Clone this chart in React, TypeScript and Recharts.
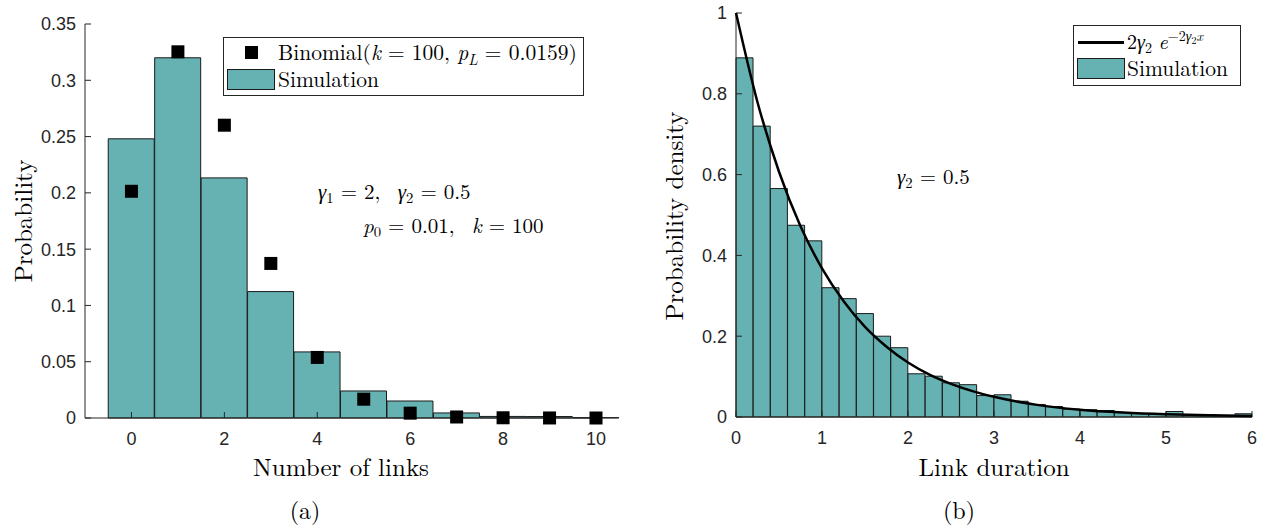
import React from "react"
import { ComposedChart, Bar, Scatter, Line, XAxis, YAxis } from "recharts"

// (a) number of links
const linkCounts = [0, 1, 2, 3, 4, 5, 6, 7, 8, 9, 10]
const simProb = [0.248, 0.32, 0.2133, 0.1123, 0.0587, 0.024, 0.0151, 0.0045, 0.0014, 0.0013, 0.0003]
const binomProb = [0.2014, 0.3253, 0.2601, 0.1373, 0.0538, 0.0167, 0.0043, 0.0009, 0.0002, 0.00003, 0]
const linkTicks = [0, 2, 4, 6, 8, 10]
const probTicks = [0, 0.05, 0.1, 0.15, 0.2, 0.25, 0.3, 0.35]

// (b) link duration
const binCenters = [
  0.1, 0.3, 0.5, 0.7, 0.9, 1.1, 1.3, 1.5, 1.7, 1.9, 2.1, 2.3, 2.5, 2.7, 2.9,
  3.1, 3.3, 3.5, 3.7, 3.9, 4.1, 4.3, 4.5, 4.7, 4.9, 5.1, 5.3, 5.5, 5.7, 5.9,
]
const density = [
  0.889, 0.72, 0.5655, 0.4746, 0.436, 0.32, 0.293, 0.256, 0.2, 0.1715, 0.107, 0.101, 0.0847, 0.08, 0.053,
  0.055, 0.039, 0.031, 0.026, 0.0194, 0.018, 0.016, 0.011, 0.0087, 0.007, 0.0136, 0.006, 0.005, 0.004, 0.008,
]
const curveX = [0, 0.25, 0.5, 0.75, 1, 1.25, 1.5, 1.75, 2, 2.25, 2.5, 2.75, 3, 3.5, 4, 4.5, 5, 5.5, 6]
const curveY = [1, 0.779, 0.607, 0.472, 0.368, 0.287, 0.223, 0.174, 0.135, 0.105, 0.082, 0.064, 0.05, 0.03, 0.018, 0.011, 0.0067, 0.0041, 0.0025]
const durationTicks = [0, 1, 2, 3, 4, 5, 6]
const densityTicks = [0, 0.2, 0.4, 0.6, 0.8, 1]

const TEAL = "#66b2b2"
const AXIS = "#262626"
const SERIF = "'Latin Modern Roman', 'CMU Serif', 'Liberation Serif', serif"
const SANS = "'Liberation Sans', Arial, sans-serif"

const tickStyle = { fill: AXIS, fontSize: 18, fontFamily: SANS }
const noLabel = () => ""

const linkData = linkCounts.map((x, i) => ({ x, sim: simProb[i], binom: binomProb[i] }))
const durData = binCenters.map((x, i) => ({ x, d: density[i] }))
const curveData = curveX.map((x, i) => ({ x, y: curveY[i] }))

const rightMargin = { top: 13, right: 15, bottom: 80, left: 36 }

const SquareMarker = (props: any) => {
  const { cx, cy } = props
  if (cx == null || cy == null) return null
  return <rect x={cx - 6.5} y={cy - 6.5} width={13} height={13} fill="#000" />
}

const subStyle: React.CSSProperties = { fontSize: "0.7em", fontStyle: "normal", verticalAlign: "-0.3em", lineHeight: 0 }

const g = (sub: string) => (
  <span>
    <i>γ</i>
    <span style={subStyle}>{sub}</span>
  </span>
)

const abs = (left: number, top: number, extra: React.CSSProperties = {}): React.CSSProperties => ({
  position: "absolute",
  left,
  top,
  fontFamily: SERIF,
  color: "#000",
  whiteSpace: "nowrap",
  lineHeight: 1,
  ...extra,
})

export default function App() {
  return (
    <div style={{ position: "absolute", left: 0, top: 0, width: 1267, height: 527, background: "#fff" }}>
      {/* left panel */}
      <div style={{ position: "absolute", left: 0, top: 0 }}>
        <ComposedChart
          width={620}
          height={527}
          data={linkData}
          margin={{ top: 24, right: 24, bottom: 79, left: 25 }}
          barCategoryGap={0}
          barGap={0}
        >
          <XAxis
            dataKey="x"
            type="number"
            domain={[-1, 10]}
            ticks={linkTicks}
            height={30}
            tickSize={-6}
            tickMargin={20}
            stroke={AXIS}
            tick={tickStyle}
          />
          <XAxis xAxisId="top" orientation="top" type="number" domain={[-1, 10]} ticks={linkTicks} height={0}
            tickSize={-6} stroke={AXIS} tickFormatter={noLabel} />
          <YAxis
            type="number"
            domain={[0, 0.35]}
            ticks={probTicks}
            width={60}
            tickSize={-6}
            tickMargin={15}
            stroke={AXIS}
            tick={tickStyle}
          />
          <YAxis yAxisId="right" orientation="right" type="number" domain={[0, 0.35]} ticks={probTicks} width={0}
            tickSize={-6} stroke={AXIS} tickFormatter={noLabel} />
          <Bar dataKey="sim" fill={TEAL} stroke="#1a1a1a" strokeWidth={1} isAnimationActive={false} />
          <Scatter dataKey="binom" shape={SquareMarker} isAnimationActive={false} />
        </ComposedChart>
      </div>

      {/* left legend */}
      <div style={{ position: "absolute", left: 223, top: 37, width: 359, height: 57, border: "1px solid #262626", background: "#fff" }} />
      <div style={{ position: "absolute", left: 245, top: 46, width: 13, height: 13, background: "#000" }} />
      <div style={{ position: "absolute", left: 227, top: 69, width: 46, height: 19, background: TEAL, border: "1px solid #1a1a1a" }} />
      <div style={abs(278, 41, { fontSize: 21.5 })}>
        Binomial(<i>k</i> = 100, <i>p</i><span style={subStyle}><i>L</i></span> = 0.0159)
      </div>
      <div style={abs(278, 68, { fontSize: 21.5 })}>Simulation</div>

      {/* left annotations */}
      <div style={abs(318, 180, { fontSize: 21 })}>
        {g("1")} = 2,&nbsp; {g("2")} = 0.5
      </div>
      <div style={abs(363, 214, { fontSize: 21 })}>
        <i>p</i><span style={subStyle}>0</span> = 0.01,&nbsp; <i>k</i> = 100
      </div>

      {/* left axis titles */}
      <div style={abs(341, 453, { fontSize: 25, transform: "translateX(-50%)" })}>Number of links</div>
      <div style={abs(21, 221, { fontSize: 25, transform: "translate(-50%, -50%) rotate(-90deg)" })}>Probability</div>
      <div style={abs(305, 497, { fontSize: 24, transform: "translateX(-50%)" })}>(a)</div>

      {/* right panel: histogram */}
      <div style={{ position: "absolute", left: 640, top: 0 }}>
        <ComposedChart width={627} height={527} data={durData} margin={rightMargin} barCategoryGap={0} barGap={0}>
          <XAxis
            dataKey="x"
            type="number"
            domain={[0, 6]}
            ticks={durationTicks}
            height={30}
            tickSize={-6}
            tickMargin={20}
            stroke={AXIS}
            tick={tickStyle}
          />
          <XAxis xAxisId="top" orientation="top" type="number" domain={[0, 6]} ticks={durationTicks} height={0}
            tickSize={-6} stroke={AXIS} tickFormatter={noLabel} />
          <YAxis
            type="number"
            domain={[0, 1]}
            ticks={densityTicks}
            width={60}
            tickSize={-6}
            tickMargin={15}
            stroke={AXIS}
            tick={tickStyle}
          />
          <YAxis yAxisId="right" orientation="right" type="number" domain={[0, 1]} ticks={densityTicks} width={0}
            tickSize={-6} stroke={AXIS} tickFormatter={noLabel} />
          <Bar dataKey="d" fill={TEAL} stroke="#1a1a1a" strokeWidth={1} isAnimationActive={false} />
        </ComposedChart>
      </div>

      {/* right panel: fitted curve overlay */}
      <div style={{ position: "absolute", left: 640, top: 0 }}>
        <ComposedChart width={627} height={527} data={curveData} margin={rightMargin}>
          <XAxis dataKey="x" type="number" domain={[0, 6]} height={30} axisLine={false} tickLine={false} tick={false} />
          <YAxis type="number" domain={[0, 1]} width={60} axisLine={false} tickLine={false} tick={false} />
          <Line dataKey="y" type="monotone" stroke="#000" strokeWidth={2.5} dot={false} isAnimationActive={false} />
        </ComposedChart>
      </div>

      {/* right legend */}
      <div style={{ position: "absolute", left: 1073, top: 25, width: 166, height: 59, border: "1px solid #262626", background: "#fff" }} />
      <div style={{ position: "absolute", left: 1078, top: 41, width: 46, height: 2.5, background: "#000" }} />
      <div style={{ position: "absolute", left: 1077, top: 58, width: 46, height: 19, background: TEAL, border: "1px solid #1a1a1a" }} />
      <div style={abs(1127, 31, { fontSize: 20 })}>
        2{g("2")} <i>e</i>
        <span style={{ fontSize: "0.7em", verticalAlign: "0.55em", lineHeight: 0 }}>
          −2<i>γ</i><span style={{ fontSize: "0.75em", verticalAlign: "-0.25em" }}>2</span><i>x</i>
        </span>
      </div>
      <div style={abs(1127, 57, { fontSize: 21.5 })}>Simulation</div>

      {/* right annotation */}
      <div style={abs(897, 165, { fontSize: 21 })}>{g("2")} = 0.5</div>

      {/* right axis titles */}
      <div style={abs(994, 453, { fontSize: 25, transform: "translateX(-50%)" })}>Link duration</div>
      <div style={abs(672, 216, { fontSize: 25, transform: "translate(-50%, -50%) rotate(-90deg)" })}>Probability density</div>
      <div style={abs(959, 497, { fontSize: 24, transform: "translateX(-50%)" })}>(b)</div>
    </div>
  )
}
